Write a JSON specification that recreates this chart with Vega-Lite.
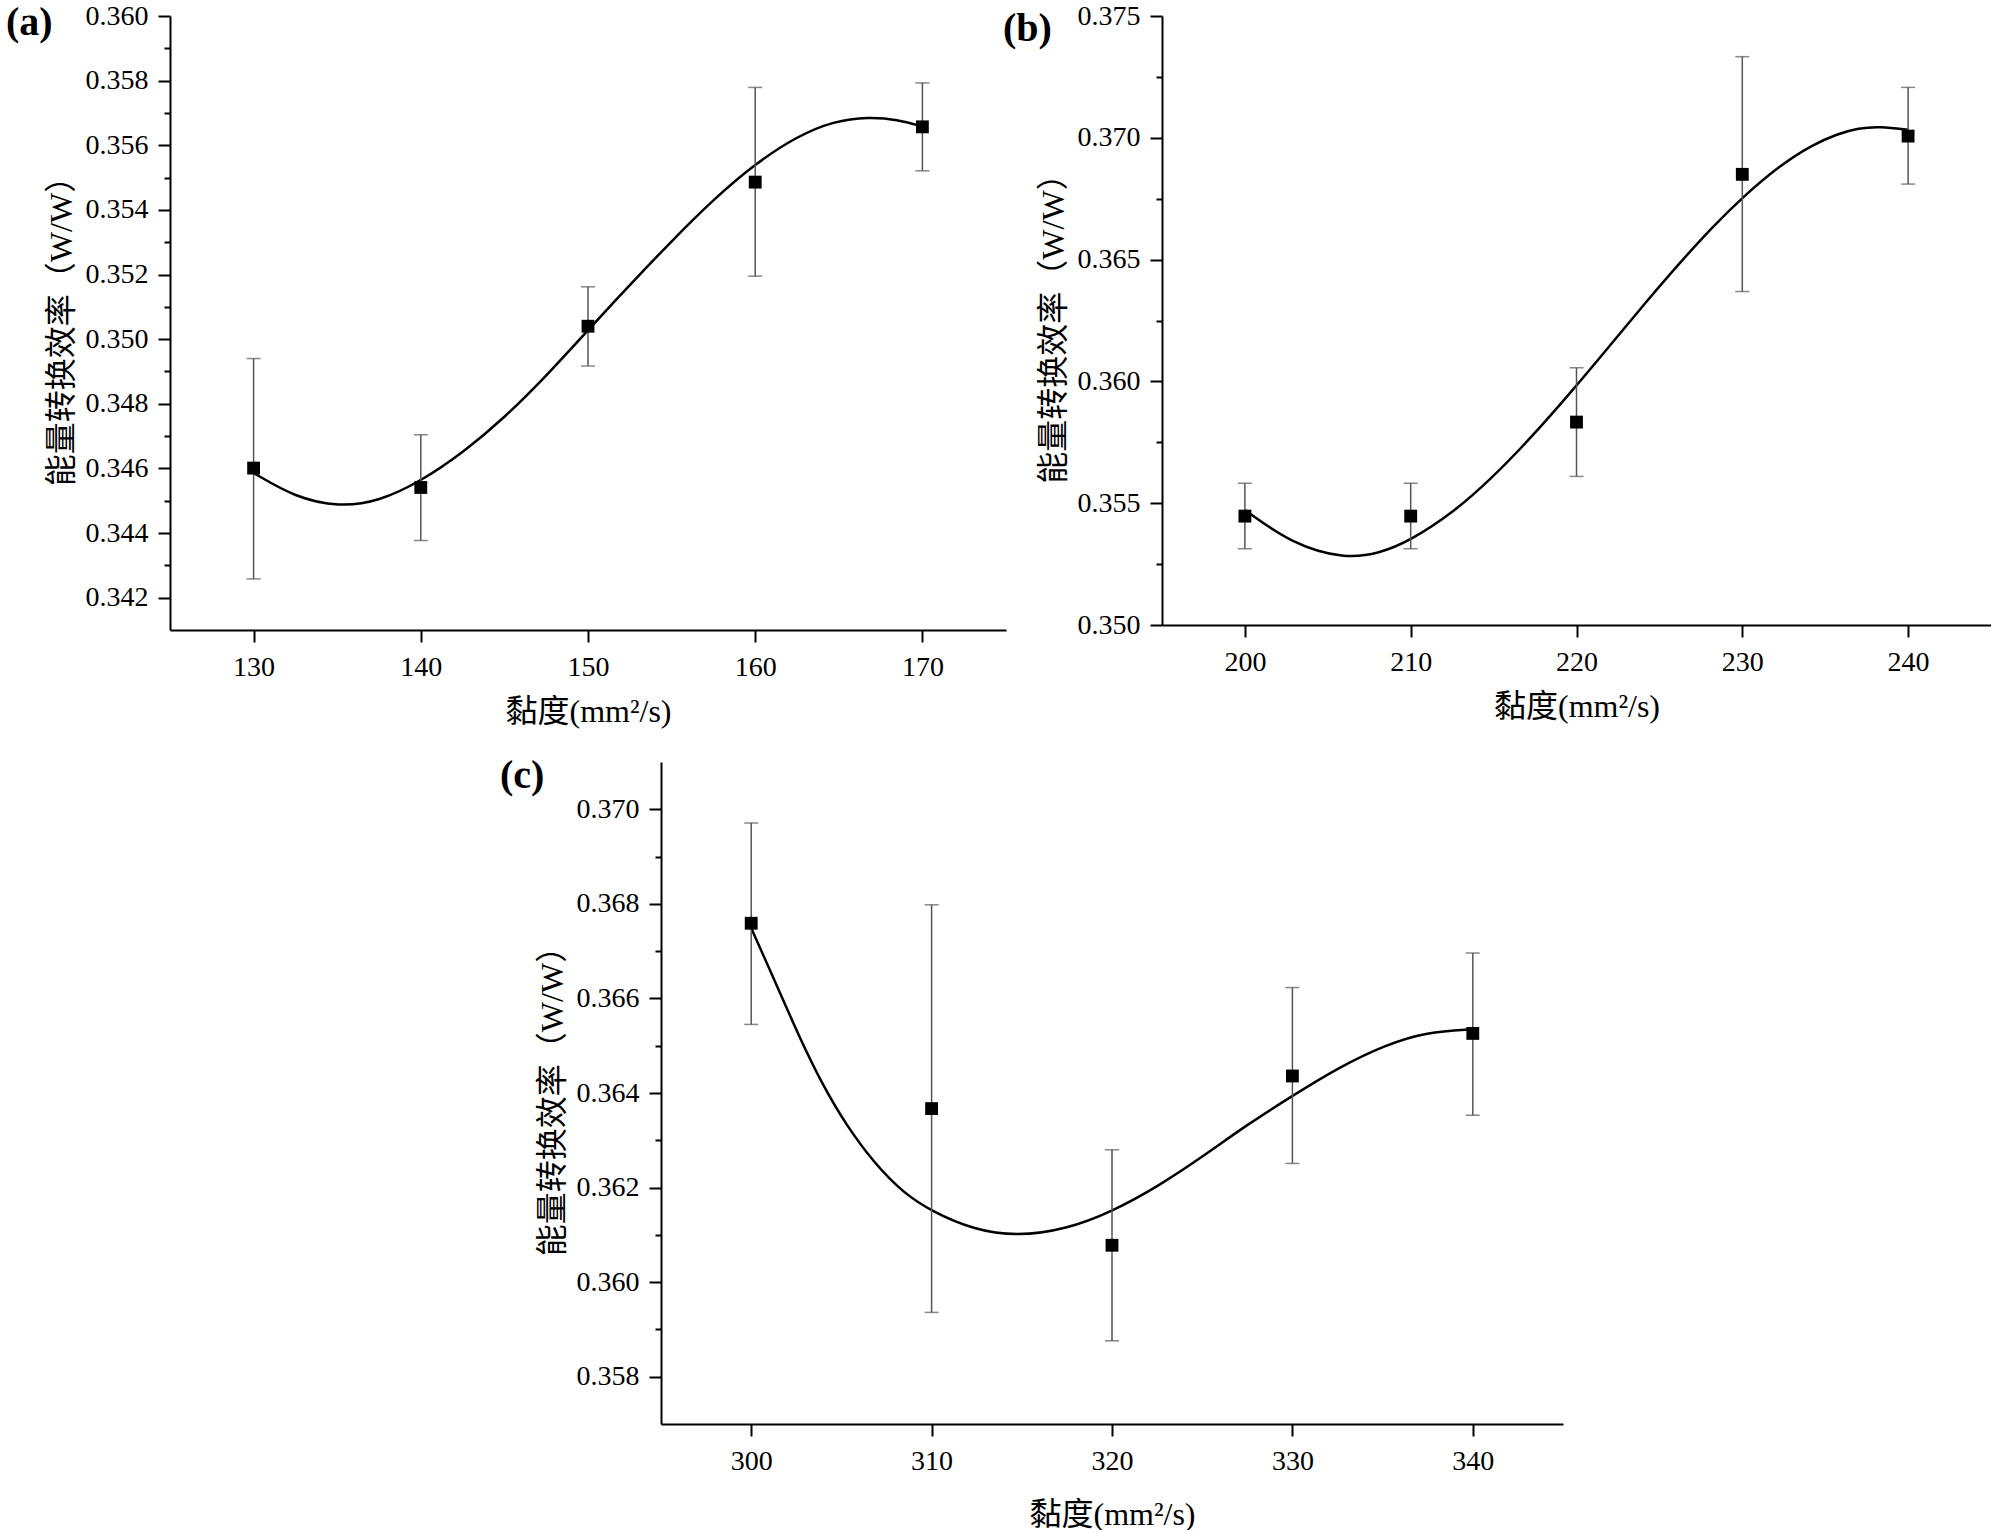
{
  "$schema": "https://vega.github.io/schema/vega-lite/v6.json",
  "background": "white",
  "padding": {"left": 6, "top": 2, "right": 0, "bottom": 0},
  "config": {
    "view": {"stroke": null},
    "axis": {
      "grid": false,
      "domainColor": "black",
      "domainWidth": 2,
      "tickColor": "black",
      "tickWidth": 2,
      "labelFont": "Liberation Serif",
      "labelFontSize": 28,
      "labelColor": "black",
      "labelFlush": false,
      "labelOverlap": false,
      "titleFont": "Liberation Serif, Noto Sans CJK SC",
      "titleFontSize": 32,
      "titleFontWeight": "normal",
      "titleColor": "black"
    },
    "axisX": {"tickSize": 12, "labelPadding": 11, "titlePadding": 15},
    "axisY": {"labelPadding": 10, "titlePadding": 7},
    "title": {
      "font": "Liberation Serif",
      "fontSize": 40,
      "fontWeight": "bold",
      "color": "black",
      "anchor": "start",
      "frame": "group",
      "baseline": "top"
    }
  },
  "datasets": {
    "pts_a": [
      {"x": 130, "y": 0.34601, "lo": 0.34258, "hi": 0.34940},
      {"x": 140, "y": 0.34541, "lo": 0.34377, "hi": 0.34704},
      {"x": 150, "y": 0.35040, "lo": 0.34917, "hi": 0.35162},
      {"x": 160, "y": 0.35486, "lo": 0.35195, "hi": 0.35779},
      {"x": 170, "y": 0.35657, "lo": 0.35521, "hi": 0.35793}
    ],
    "curve_a": [
      {"x": 130, "y": 0.34586}, {"x": 132.5, "y": 0.34510}, {"x": 135.1, "y": 0.34481},
      {"x": 137.5, "y": 0.34498}, {"x": 140, "y": 0.34560}, {"x": 142.6, "y": 0.34652},
      {"x": 145, "y": 0.34757}, {"x": 147.4, "y": 0.34880}, {"x": 150, "y": 0.35028},
      {"x": 152.5, "y": 0.35168}, {"x": 155.1, "y": 0.35309}, {"x": 157.5, "y": 0.35432},
      {"x": 160, "y": 0.35543}, {"x": 162.5, "y": 0.35628}, {"x": 164.7, "y": 0.35675},
      {"x": 166.8, "y": 0.35688}, {"x": 168.5, "y": 0.35680}, {"x": 170, "y": 0.35658}
    ],
    "pts_b": [
      {"x": 200, "y": 0.35447, "lo": 0.35313, "hi": 0.35582},
      {"x": 210, "y": 0.35447, "lo": 0.35313, "hi": 0.35582},
      {"x": 220, "y": 0.35833, "lo": 0.35610, "hi": 0.36056},
      {"x": 230, "y": 0.36850, "lo": 0.36369, "hi": 0.37333},
      {"x": 240, "y": 0.37007, "lo": 0.36810, "hi": 0.37207}
    ],
    "curve_b": [
      {"x": 200, "y": 0.35472}, {"x": 202.9, "y": 0.35330}, {"x": 206, "y": 0.35272},
      {"x": 208.1, "y": 0.35293}, {"x": 210, "y": 0.35347}, {"x": 212.6, "y": 0.35464},
      {"x": 214.73, "y": 0.35592}, {"x": 217.15, "y": 0.35760}, {"x": 220, "y": 0.35982},
      {"x": 222.17, "y": 0.36160}, {"x": 224.18, "y": 0.36325}, {"x": 226.19, "y": 0.36484},
      {"x": 228.2, "y": 0.36634}, {"x": 230, "y": 0.36755}, {"x": 232.23, "y": 0.36885},
      {"x": 234.24, "y": 0.36972}, {"x": 235.74, "y": 0.37016}, {"x": 237, "y": 0.37040},
      {"x": 238.3, "y": 0.37047}, {"x": 240, "y": 0.37033}
    ],
    "pts_c": [
      {"x": 300, "y": 0.36759, "lo": 0.36545, "hi": 0.36971},
      {"x": 310, "y": 0.36367, "lo": 0.35936, "hi": 0.36798},
      {"x": 320, "y": 0.36078, "lo": 0.35876, "hi": 0.36280},
      {"x": 330, "y": 0.36436, "lo": 0.36251, "hi": 0.36623},
      {"x": 340, "y": 0.36526, "lo": 0.36353, "hi": 0.36696}
    ],
    "curve_c": [
      {"x": 300, "y": 0.36749}, {"x": 301.4, "y": 0.36629}, {"x": 302.67, "y": 0.36518},
      {"x": 303.96, "y": 0.36417}, {"x": 305.25, "y": 0.36333}, {"x": 306.85, "y": 0.36250},
      {"x": 308.46, "y": 0.36188}, {"x": 310, "y": 0.36150}, {"x": 312.32, "y": 0.36111},
      {"x": 314.74, "y": 0.36097}, {"x": 317.47, "y": 0.36112}, {"x": 320, "y": 0.36149},
      {"x": 322.62, "y": 0.36204}, {"x": 325.2, "y": 0.36270}, {"x": 327.45, "y": 0.36332},
      {"x": 330, "y": 0.36394}, {"x": 332.6, "y": 0.36455}, {"x": 335.17, "y": 0.36502},
      {"x": 337.42, "y": 0.36529}, {"x": 340, "y": 0.36535}
    ]
  },
  "spacing": 29,
  "vconcat": [
    {
      "spacing": 156,
      "bounds": "flush",
      "hconcat": [
        {
          "width": 836,
          "height": 614,
          "title": {"text": "(a)", "dx": -164, "dy": 45},
          "encoding": {
            "x": {
              "field": "x", "type": "quantitative", "title": "黏度(mm²/s)",
              "scale": {"domain": [125, 175], "nice": false, "zero": false},
              "axis": {"values": [130, 140, 150, 160, 170]}
            },
            "y": {
              "field": "y", "type": "quantitative", "title": "能量转换效率（W/W）",
              "scale": {"domain": [0.341, 0.36], "nice": false, "zero": false},
              "axis": {
                "values": [0.342, 0.343, 0.344, 0.345, 0.346, 0.347, 0.348, 0.349, 0.35, 0.351, 0.352, 0.353, 0.354, 0.355, 0.356, 0.357, 0.358, 0.359, 0.36],
                "labelExpr": "round(datum.value * 1000) % 2 === 0 ? format(datum.value, '.3f') : ''",
                "tickSize": {"condition": {"test": "round(datum.value * 1000) % 2 === 0", "value": 12}, "value": 6}
              }
            }
          },
          "layer": [
            {
              "data": {"name": "curve_a"},
              "mark": {"type": "line", "color": "black", "strokeWidth": 2.5, "interpolate": "basis"}
            },
            {
              "data": {"name": "pts_a"},
              "mark": {"type": "errorbar", "ticks": true, "size": 14, "thickness": 1.5, "color": "#555555"},
              "encoding": {
                "y": {"field": "lo", "type": "quantitative", "title": "能量转换效率（W/W）"},
                "y2": {"field": "hi"}
              }
            },
            {
              "data": {"name": "pts_a"},
              "mark": {"type": "square", "filled": true, "size": 165, "color": "black", "opacity": 1}
            }
          ]
        },
        {
          "width": 829,
          "height": 609,
          "title": {"text": "(b)", "dx": -159, "dy": 51},
          "encoding": {
            "x": {
              "field": "x", "type": "quantitative", "title": "黏度(mm²/s)",
              "scale": {"domain": [195, 245], "nice": false, "zero": false},
              "axis": {"values": [200, 210, 220, 230, 240]}
            },
            "y": {
              "field": "y", "type": "quantitative", "title": "能量转换效率（W/W）",
              "scale": {"domain": [0.35, 0.375], "nice": false, "zero": false},
              "axis": {
                "values": [0.35, 0.3525, 0.355, 0.3575, 0.36, 0.3625, 0.365, 0.3675, 0.37, 0.3725, 0.375],
                "labelExpr": "round(datum.value * 10000) % 50 === 0 ? format(datum.value, '.3f') : ''",
                "tickSize": {"condition": {"test": "round(datum.value * 10000) % 50 === 0", "value": 12}, "value": 6}
              }
            }
          },
          "layer": [
            {
              "data": {"name": "curve_b"},
              "mark": {"type": "line", "color": "black", "strokeWidth": 2.5, "interpolate": "basis"}
            },
            {
              "data": {"name": "pts_b"},
              "mark": {"type": "errorbar", "ticks": true, "size": 14, "thickness": 1.5, "color": "#555555"},
              "encoding": {
                "y": {"field": "lo", "type": "quantitative", "title": "能量转换效率（W/W）"},
                "y2": {"field": "hi"}
              }
            },
            {
              "data": {"name": "pts_b"},
              "mark": {"type": "square", "filled": true, "size": 165, "color": "black", "opacity": 1}
            }
          ]
        }
      ]
    },
    {
      "spacing": 0,
      "bounds": "flush",
      "hconcat": [
        {
          "width": 491,
          "height": 10,
          "view": {"fill": "white"},
          "data": {"values": [{"x": 0}]},
          "mark": {"type": "point", "opacity": 0},
          "encoding": {}
        },
        {
          "width": 902,
          "height": 662,
          "title": {"text": "(c)", "dx": -161, "dy": 38},
          "encoding": {
            "x": {
              "field": "x", "type": "quantitative", "title": "黏度(mm²/s)",
              "scale": {"domain": [295, 345], "nice": false, "zero": false},
              "axis": {"values": [300, 310, 320, 330, 340], "titlePadding": 24}
            },
            "y": {
              "field": "y", "type": "quantitative", "title": "能量转换效率（W/W）",
              "scale": {"domain": [0.357, 0.371], "nice": false, "zero": false},
              "axis": {
                "values": [0.358, 0.359, 0.36, 0.361, 0.362, 0.363, 0.364, 0.365, 0.366, 0.367, 0.368, 0.369, 0.37],
                "labelExpr": "round(datum.value * 1000) % 2 === 0 ? format(datum.value, '.3f') : ''",
                "tickSize": {"condition": {"test": "round(datum.value * 1000) % 2 === 0", "value": 12}, "value": 6}
              }
            }
          },
          "layer": [
            {
              "data": {"name": "curve_c"},
              "mark": {"type": "line", "color": "black", "strokeWidth": 2.5, "interpolate": "basis"}
            },
            {
              "data": {"name": "pts_c"},
              "mark": {"type": "errorbar", "ticks": true, "size": 14, "thickness": 1.5, "color": "#555555"},
              "encoding": {
                "y": {"field": "lo", "type": "quantitative", "title": "能量转换效率（W/W）"},
                "y2": {"field": "hi"}
              }
            },
            {
              "data": {"name": "pts_c"},
              "mark": {"type": "square", "filled": true, "size": 165, "color": "black", "opacity": 1}
            }
          ]
        }
      ]
    }
  ]
}
